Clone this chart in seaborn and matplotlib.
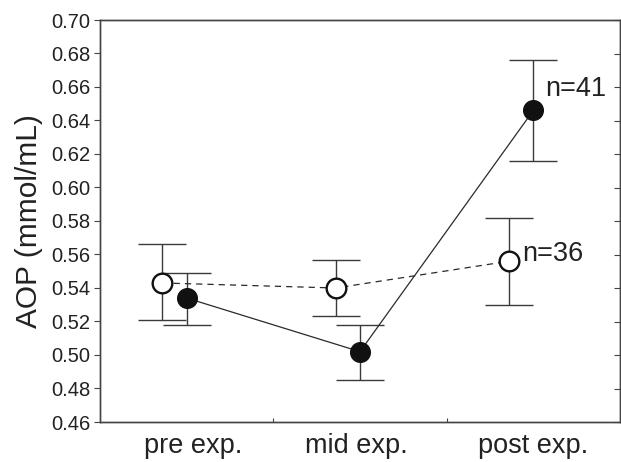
import numpy as np
import pandas as pd
import matplotlib
matplotlib.use("Agg")
import matplotlib.pyplot as plt
import matplotlib.transforms as mtransforms
import seaborn as sns

categories = ["pre exp.", "mid exp.", "post exp."]
filled_mean = [0.534, 0.502, 0.646]
filled_low = [0.518, 0.485, 0.616]
filled_high = [0.549, 0.518, 0.676]
open_mean = [0.543, 0.540, 0.556]
open_low = [0.521, 0.523, 0.530]
open_high = [0.566, 0.557, 0.582]
labels_n = ["n=41", "n=36"]
yticks = [0.46, 0.48, 0.50, 0.52, 0.54, 0.56, 0.58, 0.60, 0.62, 0.64, 0.66, 0.68, 0.70]

sns.set_style("ticks")
plt.rcParams['font.family'] = ['Liberation Sans', 'DejaVu Sans']

fig = plt.figure(figsize=(6.21, 4.62), dpi=100)
ax = fig.add_axes([100/621, 1-422/462, 520/621, 402/462])

xpos = np.arange(1, len(categories) + 1)
x_open = xpos - 0.14
x_filled = xpos.astype(float)

df = pd.DataFrame({
    "x": np.concatenate([x_filled, x_open]),
    "y": filled_mean + open_mean,
    "group": ["filled"] * 3 + ["open"] * 3,
})

col = "#2a2a2a"
ax.errorbar(x_open, open_mean,
            yerr=[np.array(open_mean) - np.array(open_low), np.array(open_high) - np.array(open_mean)],
            fmt="none", ecolor="#3a3a3a", elinewidth=1.0, capsize=17, capthick=1.0, zorder=2)
ax.errorbar(x_filled, filled_mean,
            yerr=[np.array(filled_mean) - np.array(filled_low), np.array(filled_high) - np.array(filled_mean)],
            fmt="none", ecolor="#3a3a3a", elinewidth=1.0, capsize=17, capthick=1.0, zorder=2)

sns.lineplot(data=df[df.group == "open"], x="x", y="y", ax=ax, color=col,
             linestyle=(0, (5, 4)), linewidth=0.9, zorder=3)
sns.lineplot(data=df[df.group == "filled"], x="x", y="y", ax=ax, color=col,
             linewidth=0.9, zorder=3)
sns.scatterplot(data=df[df.group == "open"], x="x", y="y", ax=ax, s=200,
                facecolor="white", edgecolor="#111111", linewidth=1.7, zorder=4)
sns.scatterplot(data=df[df.group == "filled"], x="x", y="y", ax=ax, s=200,
                color="#111111", edgecolor="#111111", linewidth=1.0, zorder=5)

ax.text(3.07, 0.659, labels_n[0], fontsize=19.5, color="#222222", va="center", ha="left")
ax.text(2.935, 0.5605, labels_n[1], fontsize=19.5, color="#222222", va="center", ha="left")

ax.set_xlim(0.5, 3.5)
ax.set_ylim(0.46, 0.70)
ax.set_yticks(yticks)
ax.set_yticklabels([f"{v:.2f}" for v in yticks], fontsize=14.5, color="#222222")
ax.set_xticks(xpos)
ax.set_xticklabels(categories, fontsize=19.5, color="#222222")
ax.tick_params(axis="x", length=0, pad=8)
first = ax.get_xticklabels()[0]
first.set_transform(first.get_transform() + mtransforms.ScaledTranslation(7/100, 0, fig.dpi_scale_trans))
mid = ax.get_xticklabels()[1]
mid.set_transform(mid.get_transform() + mtransforms.ScaledTranslation(-4/100, 0, fig.dpi_scale_trans))
ax.set_xticks([1.5, 2.5], minor=True)
ax.tick_params(axis="x", which="minor", direction="in", length=3, width=0.8, colors="#444444")
ax.tick_params(axis="y", which="major", direction="out", length=4, width=0.8, color="#444444", left=True, right=False, pad=3)

ax2 = ax.twinx()
ax2.set_ylim(0.46, 0.70)
ax2.set_yticks(yticks)
ax2.set_yticklabels([])
ax2.tick_params(axis="y", direction="in", length=4, width=0.8, color="#444444")

for a in (ax, ax2):
    for s in a.spines.values():
        s.set_visible(True)
        s.set_linewidth(1.0)
        s.set_color("#444444")

ax.set_xlabel("")
ax.set_ylabel("AOP (mmol/mL)", fontsize=21.5, color="#222222", labelpad=6)
ax2.set_ylabel("")

fig.savefig("out.png", dpi=100)
